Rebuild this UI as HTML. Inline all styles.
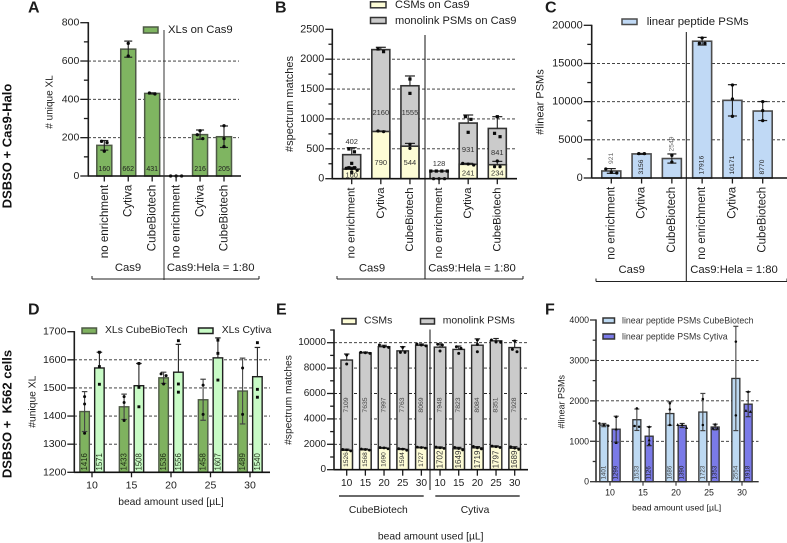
<!DOCTYPE html>
<html lang="en">
<head>
<meta charset="utf-8">
<title>Enrichment comparison figure</title>
<style>
html,body{margin:0;padding:0;background:#fff;}
#figure{display:block;width:787px;height:543px;font-family:"Liberation Sans",sans-serif;filter:blur(0.3px);}
</style>
</head>
<body>
<svg id="figure" xmlns="http://www.w3.org/2000/svg" width="787" height="543" viewBox="0 0 787 543"></svg>
<script>
/* ===== Panel A data ===== */
const enrichCats = ['no enrichment','Cytiva','CubeBiotech','no enrichment','Cytiva','CubeBiotech'];
const aTicks = [0,200,400,600,800];
const aValues = [160,662,431,0,216,205];
const aErr = [25,42,3,0,24,56];
const aPoints = [[174,181,129],[692,626],[428,433],[0,0,0],[236,215,195],[262,195,153]];
/* ===== Panel B data ===== */
const bTicks = [0,500,1000,1500,2000,2500];
const bCsm = [160,790,544,0,241,234];
const bMono = [402,2160,1555,128,931,841];
const bCsmErr = [30,8,47,0,16,56];
const bMonoErr = [117,39,164,0,135,197];
const bCsmPoints = [[165,140,175],[798,787],[575,508],[0,0,0],[229,257,245],[296,201,201]];
const bMonoPoints = [[450,497,257,184,184,106],[2170,2126],[1668,1428],[128,128,128,128],[1038,993,776],[1038,759,703]];
/* ===== Panel C data ===== */
const cTicks = [0,5000,10000,15000,20000];
const cValues = [921,3156,2549,17916,10171,8770];
const cErr = [310,60,600,500,2050,1245];
const cPoints = [[1179,742,655],[3188,3188],[2969,2096],[18340,17642,17642],[12183,10349,8079],[10000,8820,7510]];
/* ===== Panel D data ===== */
const beadCats = ['10','15','20','25','30'];
const dTicks = [1200,1300,1400,1500,1600,1700];
const dCube = [1416,1433,1536,1458,1489];
const dCytiva = [1571,1508,1556,1607,1540];
const dCubeErr = [71,45,20,73,117];
const dCytivaErr = [56,79,99,71,104];
const dCubePoints = [[1469,1443,1339],[1469,1448,1384],[1544,1550,1514],[1510,1406],[1571,1406]];
const dCytivaPoints = [[1627,1576,1513],[1587,1502,1433],[1668,1514,1485],[1670,1623,1528],[1661,1495,1467]];
/* ===== Panel E data ===== */
const eCats = ['10','15','20','25','30','10','15','20','25','30'];
const eTicks = [0,2000,4000,6000,8000,10000];
const eCsm = [1526,1568,1690,1594,1727,1702,1649,1719,1797,1689];
const eMono = [7109,7635,7997,7763,8069,7948,7823,8084,8351,7928];
const eTotalErr = [473,60,110,330,100,250,260,500,180,550];
const eCsmErr = [90,70,60,70,50,90,110,100,80,120];
const eTotalPoints = [[9029,8320],[9238,9211,9160],[9816,9685,9633],[9633,9238,9238],[9895,9816,9750],[9880,9816,9344],[9685,9554,9160],[10210,9869,9291],[10210,10052,10040],[10131,9475,9291]];
const eCsmPoints = [[1600,1560,1480],[1630,1590,1540],[1750,1720,1650],[1660,1620,1530],[1780,1750,1700],[1790,1730,1680],[1760,1670,1560],[1830,1720,1640],[1860,1810,1750],[1810,1700,1600]];
/* ===== Panel F data ===== */
const fTicks = [0,1000,2000,3000,4000];
const fCube = [1401,1533,1686,1723,2554];
const fCytiva = [1299,1126,1390,1353,1918];
const fCubeErr = [40,265,290,460,1290];
const fCytivaErr = [320,235,50,70,310];
const fCubePoints = [[1443,1402,1385],[1814,1377,1360],[1938,1790,1402],[2045,1402],[3464,1641]];
const fCytivaPoints = [[1608,1300,965],[1360,1031,932],[1410,1410,1336],[1419,1320,1320],[2227,1732,1757]];

/* ===== Helpers ===== */
const SVGNS = 'http://www.w3.org/2000/svg';
const root = document.getElementById('figure');

function shape(tag, attrs, name) {
  const el = document.createElementNS(SVGNS, tag);
  for (const k in attrs) el.setAttribute(k, attrs[k]);
  
  
  root.appendChild(el);
  return el;
}
function label(str, x, y, size, name, opt) {
  opt = opt || {};
  const el = document.createElementNS(SVGNS, 'text');
  el.setAttribute('font-size', size);
  el.setAttribute('text-anchor', opt.anchor || 'middle');
  el.setAttribute('fill', opt.fill || '#1c1c1c');
  if (opt.bold) el.setAttribute('font-weight', 'bold');
  el.setAttribute('dominant-baseline', 'central');
  if (opt.rot) {
    el.setAttribute('transform', 'translate(' + x + ',' + y + ') rotate(-90)');
  } else {
    el.setAttribute('x', x);
    el.setAttribute('y', y);
  }
  el.textContent = str;
  
  
  root.appendChild(el);
  return el;
}
function line(x1, y1, x2, y2, stroke, w, name, dash) {
  const a = {x1: x1, y1: y1, x2: x2, y2: y2, stroke: stroke, 'stroke-width': w};
  if (dash) a['stroke-dasharray'] = dash;
  return shape('line', a, name);
}
function linScale(d0, d1, r0, r1) {
  return function (v) { return r0 + (v - d0) * (r1 - r0) / (d1 - d0); };
}
function drawGrid(levels, y, x0, x1, panel) {
  levels.forEach(function (t) {
    line(x0, y(t), x1, y(t), '#2a2a2a', 0.9, panel + '-gridline-' + t, '3 2');
  });
}
function drawYAxis(ticks, minorStep, top, y, x, opt, panel) {
  const base = ticks[0];
  const major = opt.tickLen;
  for (let v = base; y(v) >= y(top) - 0.01; v += minorStep) {
    const isMajor = ticks.indexOf(v) >= 0;
    line(x - (isMajor ? major : major * 0.55), y(v), x, y(v), opt.color, 1.3, panel + (isMajor ? '-y-tick-' : '-y-minor-tick-') + v);
  }
  ticks.forEach(function (t) {
    label(String(t), x - major - 1, y(t), opt.size, panel + '-y-tick-label-' + t, {anchor: 'end'});
  });
  line(x, y(top) - 0.6, x, y(base) + 0.6, opt.color, 1.6, panel + '-y-axis-line');
}
function drawBar(cx, w, yTop, yBase, fill, stroke, sw, name) {
  return shape('rect', {x: cx - w / 2, y: yTop, width: w, height: Math.max(0, yBase - yTop), fill: fill, stroke: stroke, 'stroke-width': sw}, name);
}
function drawErr(cx, yMid, yUp, yLow, cap, color, name) {
  line(cx, yUp, cx, yLow, color, 1.1, name + '-stem');
  line(cx - cap / 2, yUp, cx + cap / 2, yUp, color, 1.2, name + '-cap-upper');
  if (yLow !== yMid) line(cx - cap / 2, yLow, cx + cap / 2, yLow, color, 1.2, name + '-cap-lower');
}
function drawPoints(cx, vals, y, kind, size, spread, name) {
  const pts = vals.map(function (v) { return {py: y(v)}; }).sort(function (a, b) { return a.py - b.py; });
  let i = 0;
  while (i < pts.length) {
    let j = i;
    while (j + 1 < pts.length && pts[j + 1].py - pts[j].py < size + 0.6) j++;
    const n = j - i + 1;
    for (let k = 0; k < n; k++) pts[i + k].off = (k - (n - 1) / 2) * spread;
    i = j + 1;
  }
  pts.forEach(function (p, idx) {
    const px = cx + p.off, r = size / 2, nm = name + '-point-' + (idx + 1);
    if (kind === 'circle') shape('circle', {cx: px, cy: p.py, r: r, fill: '#0a0a0a'}, nm);
    else if (kind === 'square') shape('rect', {x: px - r, y: p.py - r, width: size, height: size, fill: '#0a0a0a'}, nm);
    else shape('polygon', {points: [px, p.py - r - 0.4, px - r - 0.3, p.py + r, px + r + 0.3, p.py + r].join(' '), fill: '#0a0a0a'}, nm);
  });
}
function swatch(x, y, w, h, fill, stroke, name) {
  shape('rect', {x: x, y: y, width: w, height: h, fill: fill, stroke: stroke, 'stroke-width': 1.5}, name);
}
function bracket(x0, x1, y, up, name) {
  line(x0, y, x1, y, '#222', 1, name);
  line(x0, y - up, x0, y, '#222', 1, name + '-end-left');
  line(x1, y - up, x1, y, '#222', 1, name + '-end-right');
}
function xCatLabels(cats, x, axisY, size, panel) {
  cats.forEach(function (c, i) {
    line(x(i), axisY, x(i), axisY + 5.5, '#1c1c1c', 1.3, panel + '-x-tick-' + (i + 1));
    label(c, x(i), axisY + 8.8, size, panel + '-x-label-' + (i + 1), {anchor: 'end', rot: true});
  });
}

/* ===== Panel A ===== */
(function () {
  const y = linScale(0, 800, 176, 22.7);
  const x = linScale(0, 5, 104.3, 224);
  const fill = '#7fb561', stroke = '#4e5a46';
  label('A', 28, 8, 16, 'panel-a-letter', {anchor: 'start', bold: true});
  drawGrid(aTicks.slice(1, -1), y, 88, 239, 'panel-a');
  aValues.forEach(function (v, i) {
    drawBar(x(i), 15, y(v), y(0), fill, stroke, 1.5, 'panel-a-bar-' + (i + 1));
    if (v > 0) {
      drawErr(x(i), y(v), y(v + aErr[i]), y(v - aErr[i]), 8, '#222', 'panel-a-error-' + (i + 1));
      label(String(v), x(i), 169.5, 7, 'panel-a-value-' + (i + 1));
    }
    drawPoints(x(i), aPoints[i], y, 'circle', 3.3, 5.5, 'panel-a-bar-' + (i + 1));
  });
  line(88, y(0), 241, y(0), '#111', 1.6, 'panel-a-x-axis-line');
  drawYAxis(aTicks, 100, 800, y, 88.3, {tickLen: 8, size: 10.5, color: '#1c1c1c'}, 'panel-a');
  label('# unique XL', 50, 102, 10, 'panel-a-y-axis-title', {rot: true});
  xCatLabels(enrichCats, x, y(0), 11.6, 'panel-a');
  label('Cas9', 128, 268, 11.3, 'panel-a-group-cas9');
  label('Cas9:Hela = 1:80', 210.7, 268, 11.3, 'panel-a-group-hela');
  line(164, 30, 164, 280, '#333', 1, 'panel-a-divider');
  bracket(92, 259, 279, 3, 'panel-a-bracket');
  swatch(143.5, 27, 14.5, 6, fill, stroke, 'panel-a-legend-swatch');
  label('XLs on Cas9', 168, 30, 11.3, 'panel-a-legend-label', {anchor: 'start'});
})();

/* ===== Panel B ===== */
(function () {
  const y = linScale(0, 2500, 178.7, 29.3);
  const x = linScale(0, 5, 351.7, 497.3);
  const cream = '#fdfcd6', gray = '#cbcbcb', stroke = '#333';
  label('B', 275, 8, 16, 'panel-b-letter', {anchor: 'start', bold: true});
  drawGrid(bTicks.slice(1, -1), y, 332, 517, 'panel-b');
  bMono.forEach(function (v, i) {
    const c = bCsm[i];
    drawBar(x(i), 18, y(v), y(0), gray, stroke, 1.6, 'panel-b-monolink-bar-' + (i + 1));
    if (c > 0) drawBar(x(i), 18, y(c), y(0), cream, stroke, 1.6, 'panel-b-csm-bar-' + (i + 1));
    if (bMonoErr[i] > 0) drawErr(x(i), y(v), y(v + bMonoErr[i]), y(v), 10, '#222', 'panel-b-monolink-error-' + (i + 1));
    if (c > 0) drawErr(x(i), y(c), y(c + bCsmErr[i]), y(c), 10, '#222', 'panel-b-csm-error-' + (i + 1));
    drawPoints(x(i), bMonoPoints[i], y, 'square', 3.2, 5.5, 'panel-b-monolink-' + (i + 1));
    drawPoints(x(i), bCsmPoints[i], y, 'circle', 3.2, 5.5, 'panel-b-csm-' + (i + 1));
    const monoLevel = v > 1500 ? 1110 : (v > 500 ? v / 2 + 20 : v + (v > 300 ? 218 : 129));
    label(String(v), x(i), y(monoLevel), 7.5, 'panel-b-monolink-value-' + (i + 1), {fill: '#333'});
    if (c > 0) label(String(c), x(i), y(c > 400 ? 273 : c * 0.4), 7.5, 'panel-b-csm-value-' + (i + 1), {fill: '#333'});
  });
  line(332, y(0), 517, y(0), '#111', 1.6, 'panel-b-x-axis-line');
  drawYAxis(bTicks, 250, 2500, y, 332.3, {tickLen: 7, size: 10.8, color: '#1c1c1c'}, 'panel-b');
  label('#spectrum matches', 290, 104, 11, 'panel-b-y-axis-title', {rot: true});
  xCatLabels(enrichCats, x, y(0), 11.2, 'panel-b');
  label('Cas9', 372, 268.5, 11.3, 'panel-b-group-cas9');
  label('Cas9:Hela = 1:80', 472, 268.5, 11.3, 'panel-b-group-hela');
  line(425, 35, 425, 279, '#111', 1, 'panel-b-divider');
  bracket(337, 523, 279, 3, 'panel-b-bracket');
  swatch(370.5, 1.8, 15.5, 6, cream, stroke, 'panel-b-legend-swatch-csm');
  label('CSMs on Cas9', 395, 5, 11.1, 'panel-b-legend-label-csm', {anchor: 'start'});
  swatch(370.5, 17.5, 15.5, 6, gray, stroke, 'panel-b-legend-swatch-monolink');
  label('monolink PSMs on Cas9', 395, 21, 11.1, 'panel-b-legend-label-monolink', {anchor: 'start'});
})();

/* ===== Panel C ===== */
(function () {
  const y = linScale(0, 20000, 178, 25.3);
  const x = linScale(0, 5, 611.3, 762.7);
  const fill = '#c0d9f5', stroke = '#4c4c4c';
  label('C', 545, 8, 16, 'panel-c-letter', {anchor: 'start', bold: true});
  drawGrid(cTicks.slice(1, -1), y, 592, 787, 'panel-c');
  cValues.forEach(function (v, i) {
    drawBar(x(i), 19, y(v), y(0), fill, stroke, 1.6, 'panel-c-bar-' + (i + 1));
    drawErr(x(i), y(v), y(v + cErr[i]), y(v - cErr[i]), 9, '#222', 'panel-c-error-' + (i + 1));
    drawPoints(x(i), cPoints[i], y, 'circle', 3.3, 5.5, 'panel-c-bar-' + (i + 1));
    const outside = v < 3000;
    const ly = outside ? y(v) - 7 : 174.5;
    const lEl = label(String(v), x(i), ly, 6.6, 'panel-c-value-' + (i + 1), {anchor: 'start', rot: true, fill: outside ? '#666' : '#222'});
    lEl.setAttribute('letter-spacing', '0.1');
  });
  line(592, y(0), 787, y(0), '#111', 1.6, 'panel-c-x-axis-line');
  drawYAxis(cTicks, 2500, 20000, y, 591.7, {tickLen: 8, size: 11, color: '#1c1c1c'}, 'panel-c');
  label('#linear PSMs', 540.7, 102, 11, 'panel-c-y-axis-title', {rot: true});
  xCatLabels(enrichCats, x, y(0), 11.5, 'panel-c');
  label('Cas9', 631.7, 270, 11.3, 'panel-c-group-cas9');
  label('Cas9:Hela = 1:80', 734, 270, 11.3, 'panel-c-group-hela');
  line(686.3, 32, 686.3, 281, '#111', 1, 'panel-c-divider');
  bracket(596, 787, 281.5, 3, 'panel-c-bracket');
  swatch(622, 19, 15, 5.5, fill, stroke, 'panel-c-legend-swatch');
  label('linear peptide PSMs', 646.7, 22, 11.4, 'panel-c-legend-label', {anchor: 'start'});
})();

/* ===== Panel D ===== */
(function () {
  const y = linScale(1200, 1700, 472.3, 331.7);
  const x = linScale(0, 4, 92, 250);
  const w = 9.5, off = 7.4;
  const cubeFill = '#7fb25f', cytFill = '#c8fbc6';
  label('D', 28, 310, 16, 'panel-d-letter', {anchor: 'start', bold: true});
  drawGrid(dTicks.slice(1, -1), y, 74, 270, 'panel-d');
  beadCats.forEach(function (c, i) {
    const xa = x(i) - off, xb = x(i) + off;
    drawBar(xa, w, y(dCube[i]), y(1200), cubeFill, '#4e5a46', 1.4, 'panel-d-cube-bar-' + c);
    drawErr(xa, y(dCube[i]), y(dCube[i] + dCubeErr[i]), y(dCube[i] - dCubeErr[i]), 5.5, '#444', 'panel-d-cube-error-' + c);
    drawPoints(xa, dCubePoints[i], y, 'circle', 3, 5, 'panel-d-cube-' + c);
    label(String(dCube[i]), xa, 470.5, 7.8, 'panel-d-cube-value-' + c, {anchor: 'start', rot: true, fill: '#1d2a14'});
    drawBar(xb, w, y(dCytiva[i]), y(1200), cytFill, '#1f1f1f', 1.4, 'panel-d-cytiva-bar-' + c);
    drawErr(xb, y(dCytiva[i]), y(dCytiva[i] + dCytivaErr[i]), y(dCytiva[i]), 5.5, '#222', 'panel-d-cytiva-error-' + c);
    drawPoints(xb, dCytivaPoints[i], y, 'square', 2.9, 5, 'panel-d-cytiva-' + c);
    label(String(dCytiva[i]), xb, 470.5, 7.8, 'panel-d-cytiva-value-' + c, {anchor: 'start', rot: true, fill: '#1d2a14'});
    line(x(i), y(1200), x(i), y(1200) + 5, '#1c1c1c', 1.3, 'panel-d-x-tick-' + c);
    label(c, x(i), y(1200) + 13, 10.5, 'panel-d-x-tick-label-' + c);
  });
  line(74, y(1200), 270, y(1200), '#111', 1.6, 'panel-d-x-axis-line');
  drawYAxis(dTicks, 100, 1700, y, 74.3, {tickLen: 7, size: 10.5, color: '#1c1c1c'}, 'panel-d');
  label('#unique XL', 33, 401.7, 10.3, 'panel-d-y-axis-title', {rot: true});
  label('bead amount used [µL]', 171, 502.7, 10.3, 'panel-d-x-axis-title');
  swatch(82, 328, 14.5, 5.5, cubeFill, '#4e5a46', 'panel-d-legend-swatch-cube');
  label('XLs CubeBioTech', 105, 330.7, 10.4, 'panel-d-legend-label-cube', {anchor: 'start'});
  swatch(198.5, 328, 14.5, 5.5, cytFill, '#1f1f1f', 'panel-d-legend-swatch-cytiva');
  label('XLs Cytiva', 221.7, 330.7, 10.4, 'panel-d-legend-label-cytiva', {anchor: 'start'});
})();

/* ===== Panel E ===== */
(function () {
  const y = linScale(0, 10000, 469.7, 342.7);
  const x = linScale(0, 9, 346.7, 514.7);
  const cream = '#fdfcd6', gray = '#cbcbcb', stroke = '#2b2b2b';
  label('E', 276, 310, 16, 'panel-e-letter', {anchor: 'start', bold: true});
  drawGrid(eTicks.slice(1), y, 334, 528, 'panel-e');
  eCats.forEach(function (c, i) {
    const total = eCsm[i] + eMono[i];
    const g = i < 5 ? 'cube-' : 'cytiva-';
    drawBar(x(i), 11.5, y(total), y(0), gray, stroke, 1.4, 'panel-e-monolink-bar-' + g + c);
    drawBar(x(i), 11.5, y(eCsm[i]), y(0), cream, stroke, 1.4, 'panel-e-csm-bar-' + g + c);
    drawErr(x(i), y(total), y(total + eTotalErr[i]), y(total), 5.5, '#222', 'panel-e-monolink-error-' + g + c);
    drawErr(x(i), y(eCsm[i]), y(eCsm[i] + eCsmErr[i]), y(eCsm[i]), 5.5, '#222', 'panel-e-csm-error-' + g + c);
    drawPoints(x(i), eTotalPoints[i], y, 'circle', 3, 4.6, 'panel-e-monolink-' + g + c);
    drawPoints(x(i), eCsmPoints[i], y, 'circle', 2.8, 4, 'panel-e-csm-' + g + c);
    label(String(eMono[i]), x(i), 405, 6.8, 'panel-e-monolink-value-' + g + c, {rot: true, fill: '#444'});
    label(String(eCsm[i]), x(i), 459.5, i < 5 ? 6.6 : 8, 'panel-e-csm-value-' + g + c, {rot: true, fill: '#333'});
    line(x(i), y(0), x(i), y(0) + 6, '#1c1c1c', 1.3, 'panel-e-x-tick-' + g + c);
    label(c, x(i), y(0) + 14, 10.2, 'panel-e-x-tick-label-' + g + c);
  });
  line(334, y(0), 528, y(0), '#111', 1.6, 'panel-e-x-axis-line');
  drawYAxis(eTicks, 1000, 11000, y, 334, {tickLen: 7, size: 10, color: '#1c1c1c'}, 'panel-e');
  label('#spectrum matches', 289, 400, 10.3, 'panel-e-y-axis-title', {rot: true});
  line(430, 329.5, 430, 490, '#111', 1, 'panel-e-divider');
  line(339, 496, 423.7, 496, '#111', 1.2, 'panel-e-bracket-cubebiotech');
  line(435.3, 496, 519.7, 496, '#111', 1.2, 'panel-e-bracket-cytiva');
  label('CubeBiotech', 378.3, 510.3, 10.3, 'panel-e-group-cubebiotech');
  label('Cytiva', 475, 510.3, 10.3, 'panel-e-group-cytiva');
  label('bead amount used [µL]', 430.7, 537, 10.3, 'panel-e-x-axis-title');
  swatch(342, 318.5, 14, 5.5, cream, stroke, 'panel-e-legend-swatch-csm');
  label('CSMs', 364, 321, 10.4, 'panel-e-legend-label-csm', {anchor: 'start'});
  swatch(420.5, 318.5, 14, 5.5, gray, stroke, 'panel-e-legend-swatch-monolink');
  label('monolink PSMs', 442.7, 321, 10.4, 'panel-e-legend-label-monolink', {anchor: 'start'});
})();

/* ===== Panel F ===== */
(function () {
  const y = linScale(0, 4000, 481.7, 320);
  const x = linScale(0, 4, 610, 742);
  const w = 8, off = 6.15;
  const cubeFill = '#bdd9f2', cytFill = '#7a7ae8';
  label('F', 545, 310, 16, 'panel-f-letter', {anchor: 'start', bold: true});
  drawGrid(fTicks.slice(1, -1), y, 596, 758.5, 'panel-f');
  beadCats.forEach(function (c, i) {
    const xa = x(i) - off, xb = x(i) + off;
    drawBar(xa, w, y(fCube[i]), y(0), cubeFill, '#333', 1.3, 'panel-f-cube-bar-' + c);
    drawErr(xa, y(fCube[i]), y(fCube[i] + fCubeErr[i]), y(fCube[i] - fCubeErr[i]), 5, '#444', 'panel-f-cube-error-' + c);
    drawPoints(xa, fCubePoints[i], y, 'circle', 2.5, 4.4, 'panel-f-cube-' + c);
    label(String(fCube[i]), xa, 479.5, 6.2, 'panel-f-cube-value-' + c, {anchor: 'start', rot: true, fill: '#444'});
    drawBar(xb, w, y(fCytiva[i]), y(0), cytFill, '#333', 1.3, 'panel-f-cytiva-bar-' + c);
    drawErr(xb, y(fCytiva[i]), y(fCytiva[i] + fCytivaErr[i]), y(fCytiva[i] - fCytivaErr[i]), 5, '#333', 'panel-f-cytiva-error-' + c);
    drawPoints(xb, fCytivaPoints[i], y, 'triangle', 2.5, 4.4, 'panel-f-cytiva-' + c);
    label(String(fCytiva[i]), xb, 479.5, 6.2, 'panel-f-cytiva-value-' + c, {anchor: 'start', rot: true, fill: '#222'});
    line(x(i), y(0), x(i), y(0) + 4, '#333', 1.1, 'panel-f-x-tick-' + c);
    label(c, x(i), y(0) + 11, 8.8, 'panel-f-x-tick-label-' + c);
  });
  line(596, y(0), 758.7, y(0), '#333', 1.4, 'panel-f-x-axis-line');
  drawYAxis(fTicks, 500, 4000, y, 596, {tickLen: 6, size: 8.8, color: '#333'}, 'panel-f');
  label('#linear PSMs', 561.7, 401.7, 9, 'panel-f-y-axis-title', {rot: true});
  label('bead amount used [µL]', 676.7, 507.5, 8.7, 'panel-f-x-axis-title');
  swatch(603, 318, 11.5, 5, cubeFill, '#333', 'panel-f-legend-swatch-cube');
  label('linear peptide PSMs CubeBiotech', 622, 320.7, 8.8, 'panel-f-legend-label-cube', {anchor: 'start', fill: '#333'});
  swatch(603, 334, 11.5, 5, cytFill, '#333', 'panel-f-legend-swatch-cytiva');
  label('linear peptide PSMs Cytiva', 622, 336.3, 8.8, 'panel-f-legend-label-cytiva', {anchor: 'start', fill: '#333'});
})();

/* ===== Row labels ===== */
label('DSBSO + Cas9-Halo', 7, 146, 13, 'row-label-cas9-halo', {rot: true, bold: true, fill: '#111'});
label('DSBSO +  K562 cells', 7, 414, 13, 'row-label-k562', {rot: true, bold: true, fill: '#111'}).style.whiteSpace = 'pre';
</script>
</body>
</html>
